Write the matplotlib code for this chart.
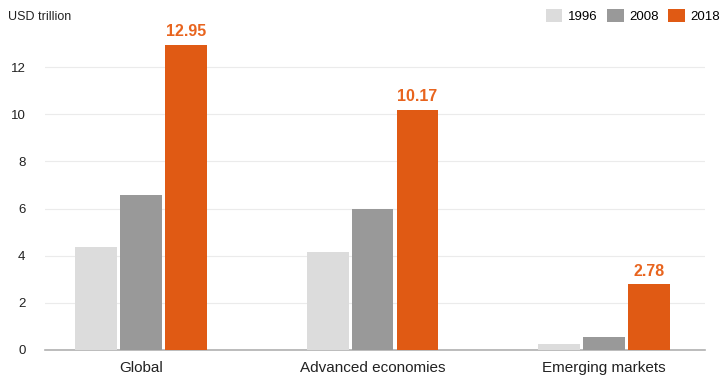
import matplotlib.pyplot as plt
import numpy as np

plt.rcParams['font.family'] = ['Liberation Sans', 'DejaVu Sans']

categories = ["Global", "Advanced economies", "Emerging markets"]
years = ["1996", "2008", "2018"]
v1996 = [4.36, 4.15, 0.24]
v2008 = [6.57, 6.00, 0.55]
v2018 = [12.95, 10.17, 2.78]
colors = ["#dcdcdc", "#999999", "#e05a14"]

fig = plt.figure(figsize=(7.24, 3.85), dpi=100)
ax = fig.add_axes([0.062, 0.091, 0.912, 0.857])

x = np.arange(len(categories))
w = 0.18
step = 0.194
for i, (vals, yr) in enumerate(zip([v1996, v2008, v2018], years)):
    ax.bar(x + (i - 1) * step, vals, width=w, color=colors[i], label=yr, zorder=3)

for xi, v in zip(x, v2018):
    ax.text(xi + step, v + 0.25, f"{v:.2f}", ha="center", va="bottom",
            color="#e8641e", fontsize=11.5, fontweight="bold")

ax.set_ylim(0, 14)
ax.set_xlim(-0.415, 2.436)
ax.set_yticks(range(0, 13, 2))
ax.set_xticks(x)
ax.set_xticklabels(categories, fontsize=11, color="#222222")
ax.tick_params(axis="y", labelsize=9.5, colors="#222222", length=0, pad=14)
ax.tick_params(axis="x", length=0, pad=8)
ax.grid(axis="y", color="#ebebeb", linewidth=0.8, zorder=0)
for s in ["top", "right", "left"]:
    ax.spines[s].set_visible(False)
ax.spines["bottom"].set_color("#b0b0b0")
ax.spines["bottom"].set_linewidth(1.2)

fig.text(0.011, 0.955, "USD trillion", fontsize=9, color="#222222", va="center")
fig.legend(loc="center right", bbox_to_anchor=(0.995, 0.958), ncol=3, frameon=False,
           fontsize=9.5, handlelength=1.25, handleheight=1.1, handletextpad=0.45,
           columnspacing=0.7, borderaxespad=0, borderpad=0)

fig.savefig("out.png", dpi=100)
